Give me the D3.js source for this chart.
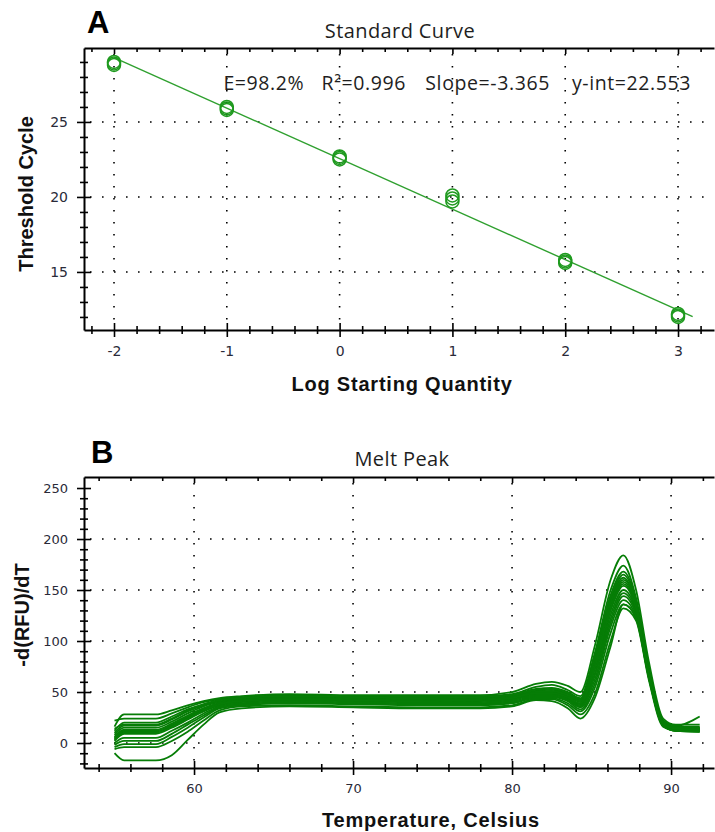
<!DOCTYPE html>
<html>
  <head>
    <meta charset="utf-8">
    <style>
    body { margin: 0; border: 0; overflow: hidden; background: #fff; }
    .axis path { fill: none; stroke: #000; stroke-width: 2px; }
    .axis line { stroke: #000; stroke-width: 1.6px; }
    .axis text { font-family: "DejaVu Sans", sans-serif; fill: #2a2a38; }
    .grid line { stroke: #000; stroke-width: 1.6px; stroke-dasharray: 1.6 10.4; }
    .title { font-family: "Open Sans", sans-serif; font-size: 20px; letter-spacing: 0.4px; fill: #1e1e1e; }
    .panel { font-family: "Liberation Sans", Arial, sans-serif; font-weight: bold; font-size: 31px; fill: #000; }
    .atitle { font-family: "Liberation Sans", Arial, sans-serif; font-weight: bold; font-size: 20px; fill: #111; }
    .atitle.xt { letter-spacing: 0.8px; }
    .stats { font-family: "Open Sans", sans-serif; font-size: 19.5px; letter-spacing: 0.6px; fill: #1e1e1e; }
    </style>
  </head>
  <body>
    <script src="https://cdnjs.cloudflare.com/ajax/libs/d3/7.8.5/d3.min.js"></script>
    <script>
var width = 715, height = 832;

// ---- panel A: standard curve ----
var logQty = [-2, -2, -2, -1, -1, -1, 0, 0, 0, 1, 1, 1, 2, 2, 2, 3, 3, 3];
var cqVals = [28.9, 28.8, 29.0, 25.9, 26.0, 25.8, 22.6, 22.5, 22.7, 19.7, 20.1, 19.9, 15.7, 15.6, 15.8, 12.1, 12.0, 12.2];
var fitSlope = -3.365, fitInt = 22.553;
var fitRange = [-2, 3.13];
var stats = ["E=98.2%", "R\u00b2=0.996", "Slope=-3.365", "y-int=22.553"];
var statsX = [-1.03, -0.16, 0.76, 2.06];
var aXMajor = [-2, -1, 0, 1, 2, 3];
var aYMajor = [15, 20, 25];

// ---- panel B: melt peak ----
var temps = [55, 55.6, 57.6, 58.6, 59.6, 60.6, 61.6, 63, 66, 70, 74, 78, 80, 81.5, 82.5, 83.5, 84.3, 85.2, 86.2, 87, 87.8, 88.6, 89.5, 90.3, 91.8];
var melt01 = [16, 28, 28, 32, 37, 41, 44, 46, 48, 47, 47, 47, 50, 58, 60, 56, 50, 95, 160, 184, 150, 80, 24, 18, 18];
var melt02 = [22, 24, 24, 29, 35, 40, 43, 45, 47, 46, 46, 46, 48, 55, 57, 52, 46, 88, 150, 174, 142, 74, 22, 17, 26];
var melt03 = [12, 20, 20, 26, 33, 38, 42, 44, 46, 45, 45, 45, 47, 53, 54, 50, 44, 84, 145, 168, 140, 72, 21, 16, 16];
var melt04 = [10, 17, 17, 23, 31, 37, 41, 43, 45, 45, 44, 44, 46, 51, 52, 48, 42, 80, 140, 162, 136, 70, 20, 15, 15];
var melt05 = [8, 15, 15, 21, 29, 36, 40, 43, 45, 44, 43, 43, 45, 50, 50, 46, 40, 76, 135, 158, 134, 70, 20, 15, 14];
var melt06 = [6, 13, 13, 19, 27, 34, 39, 42, 44, 43, 42, 42, 44, 49, 49, 45, 38, 72, 130, 154, 132, 68, 19, 14, 14];
var melt07 = [4, 11, 11, 17, 25, 33, 38, 41, 43, 42, 41, 41, 43, 48, 48, 44, 37, 68, 126, 150, 130, 68, 19, 14, 13];
var melt08 = [2, 9, 9, 15, 23, 31, 37, 40, 42, 41, 40, 40, 42, 47, 47, 43, 36, 66, 122, 147, 128, 66, 18, 13, 13];
var melt09 = [0, 5, 5, 12, 20, 29, 36, 39, 41, 40, 39, 39, 41, 46, 46, 42, 35, 62, 118, 144, 126, 66, 18, 13, 12];
var melt10 = [-2, 2, 2, 9, 18, 27, 35, 38, 40, 39, 38, 38, 40, 45, 45, 41, 33, 58, 114, 140, 124, 64, 17, 12, 12];
var melt11 = [-4, -1, -1, 6, 15, 25, 34, 37, 39, 38, 37, 37, 39, 44, 44, 39, 31, 54, 108, 136, 122, 64, 17, 12, 12];
var melt12 = [-6, -4, -4, 2, 11, 22, 32, 36, 37, 36, 35, 35, 37, 43, 43, 37, 28, 48, 100, 132, 120, 62, 16, 12, 11];
var melt13 = [-10, -17, -17, -12, 3, 18, 30, 34, 36, 35, 34, 34, 36, 42, 41, 34, 24, 44, 95, 136, 124, 66, 17, 12, 11];
var melt14 = [14, 18, 18, 24, 32, 38, 42, 44, 46, 45, 44, 45, 47, 52, 53, 49, 43, 82, 142, 165, 138, 72, 21, 15, 15];
var melt15 = [5, 12, 12, 18, 26, 34, 39, 42, 44, 43, 42, 43, 45, 50, 51, 47, 41, 78, 137, 160, 136, 70, 20, 15, 14];
var melt16 = [3, 10, 10, 16, 24, 32, 38, 41, 43, 42, 41, 42, 44, 49, 49, 45, 39, 74, 132, 156, 132, 68, 19, 14, 13];
var meltCurves = [melt01, melt02, melt03, melt04, melt05, melt06, melt07, melt08, melt09, melt10, melt11, melt12, melt13, melt14, melt15, melt16];
var bXMajor = [60, 70, 80, 90];
var bYMajor = [0, 50, 100, 150, 200, 250];

var svg = d3.select("body").append("svg")
    .attr("width", width)
    .attr("height", height);

// axis with ticks crossing the axis line
function crossAxis(g, axisFn, scale, major, minor, orient, fontSize) {
  var a = axisFn(scale).tickValues(major).tickSize(7).tickSizeOuter(0).tickPadding(9)
    .tickFormat(d => String(d));
  g.call(a);
  g.selectAll(".tick line").attr(orient == "x" ? "y1" : "x1", orient == "x" ? -7 : 7);
  g.selectAll(".tick text").style("font-size", fontSize + "px");
  var m = axisFn(scale).tickValues(minor).tickSize(4).tickSizeOuter(0).tickFormat("");
  var mg = g.append("g").call(m);
  mg.select(".domain").remove();
  mg.selectAll(".tick line").attr(orient == "x" ? "y1" : "x1", orient == "x" ? -4 : 4);
}

function frame(x, y, xMajor, xMinor, yMajor, yMinor, hGrid, fs) {
  var g = svg.append("g");
  var x0 = x.range()[0], x1 = x.range()[1], y0 = y.range()[0], y1 = y.range()[1];

  var grid = g.append("g").attr("class", "grid");
  grid.selectAll("line.v").data(xMajor).enter().append("line")
    .attr("x1", d => x(d)).attr("x2", d => x(d))
    .attr("y1", y1 + 6).attr("y2", y0);
  grid.selectAll("line.h").data(hGrid).enter().append("line")
    .attr("x1", x0 + 6).attr("x2", x1)
    .attr("y1", d => y(d)).attr("y2", d => y(d));

  // top border, ticks pointing in
  var top = g.append("g").attr("class", "axis").attr("transform", "translate(0," + y1 + ")");
  top.call(d3.axisBottom(x).tickValues(xMajor).tickSize(6).tickSizeOuter(0).tickFormat(""));
  top.append("g").call(d3.axisBottom(x).tickValues(xMinor).tickSize(4).tickSizeOuter(0).tickFormat(""))
    .select(".domain").remove();

  var bottom = g.append("g").attr("class", "axis").attr("transform", "translate(0," + y0 + ")");
  crossAxis(bottom, d3.axisBottom, x, xMajor, xMinor, "x", fs);

  var left = g.append("g").attr("class", "axis").attr("transform", "translate(" + x0 + ",0)");
  crossAxis(left, d3.axisLeft, y, yMajor, yMinor, "y", fs);
  return g;
}

// ---------- Panel A ----------
var xA = d3.scaleLinear().domain([-2.266, 3.319]).range([84, 714]);
var yA = d3.scaleLinear().domain([11.13, 29.93]).range([330, 48]);

frame(xA, yA, aXMajor, d3.range(-2.2, 3.3, 0.2).filter(v => Math.abs(v - Math.round(v)) > 0.01),
      aYMajor, d3.range(12, 30, 1).filter(v => v % 5 != 0), aYMajor, 14);

svg.append("path")
  .datum(fitRange)
  .attr("fill", "none")
  .attr("stroke", "#2fa02f")
  .attr("stroke-width", 1.4)
  .attr("d", d3.line().x(d => xA(d)).y(d => yA(fitInt + fitSlope * d)));

svg.append("g").selectAll("circle")
  .data(logQty)
  .enter().append("circle")
  .attr("cx", d => xA(d))
  .attr("cy", (d, i) => yA(cqVals[i]))
  .attr("r", 6.5)
  .attr("fill", "none")
  .attr("stroke", "#1f9a1f")
  .attr("stroke-width", 1.5);

svg.append("g").selectAll("text")
  .data(stats)
  .enter().append("text")
  .attr("class", "stats")
  .attr("x", (d, i) => xA(statsX[i]))
  .attr("y", 90)
  .text(d => d);

svg.append("text").attr("class", "panel").attr("x", 87).attr("y", 33).text("A");
svg.append("text").attr("class", "title").attr("x", 400).attr("y", 38).attr("text-anchor", "middle").text("Standard Curve");
svg.append("text").attr("class", "atitle xt").attr("x", 402).attr("y", 391).attr("text-anchor", "middle").text("Log Starting Quantity");
svg.append("text").attr("class", "atitle").attr("transform", "translate(33,194) rotate(-90)").attr("text-anchor", "middle").text("Threshold Cycle");

// ---------- Panel B ----------
var xB = d3.scaleLinear().domain([53.08, 92.7]).range([84, 714]);
var yB = d3.scaleLinear().domain([-24.5, 260.8]).range([768, 477]);

frame(xB, yB, bXMajor, d3.range(54, 93, 2).filter(v => v % 10 != 0),
      bYMajor, d3.range(-20, 260, 10).filter(v => v % 50 != 0), [0, 50, 100, 150, 200], 13);

var meltLine = d3.line()
  .x((d, i) => xB(temps[i]))
  .y(d => yB(d))
  .curve(d3.curveMonotoneX);

svg.append("g").selectAll("path")
  .data(meltCurves)
  .enter().append("path")
  .attr("fill", "none")
  .attr("stroke", "#067d06")
  .attr("stroke-width", 1.8)
  .attr("d", meltLine);

svg.append("text").attr("class", "panel").attr("x", 91).attr("y", 463).text("B");
svg.append("text").attr("class", "title").attr("x", 402).attr("y", 466).attr("text-anchor", "middle").text("Melt Peak");
svg.append("text").attr("class", "atitle xt").attr("x", 431).attr("y", 827).attr("text-anchor", "middle").text("Temperature, Celsius");
svg.append("text").attr("class", "atitle").attr("transform", "translate(29,615) rotate(-90)").attr("text-anchor", "middle").text("-d(RFU)/dT");
    </script>
  </body>
</html>
